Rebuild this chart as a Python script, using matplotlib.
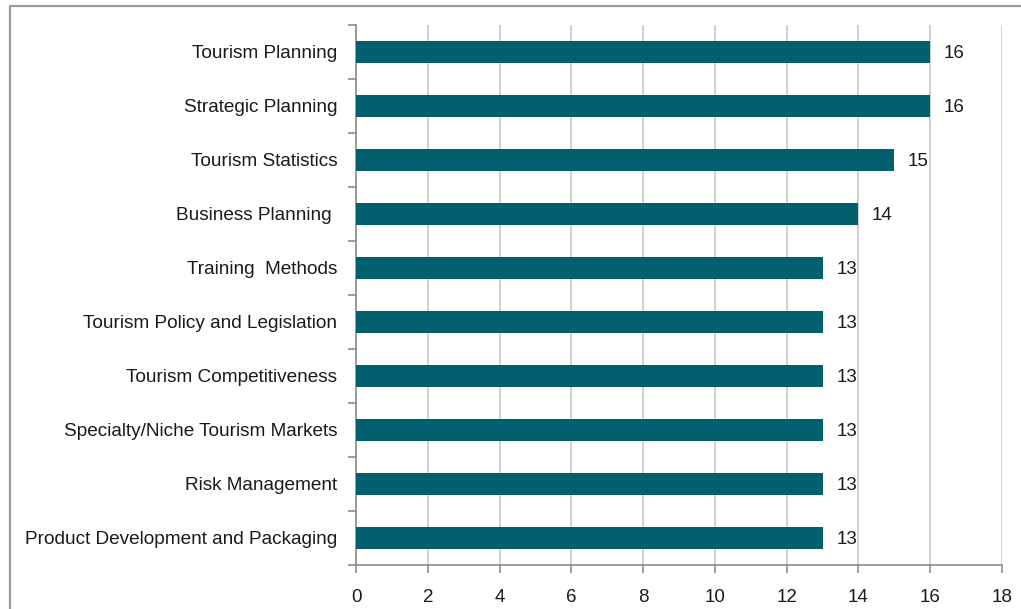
import matplotlib.pyplot as plt
from matplotlib.patches import Rectangle

categories = [
    'Tourism Planning',
    'Strategic Planning',
    'Tourism Statistics',
    'Business Planning ',
    'Training  Methods',
    'Tourism Policy and Legislation',
    'Tourism Competitiveness',
    'Specialty/Niche Tourism Markets',
    'Risk Management',
    'Product Development and Packaging',
]
values = [16, 16, 15, 14, 13, 13, 13, 13, 13, 13]
x_ticks = [0, 2, 4, 6, 8, 10, 12, 14, 16, 18]

plt.rcParams['font.family'] = ['Liberation Sans', 'DejaVu Sans']

fig = plt.figure(figsize=(10.21, 6.09), dpi=100)
ax = fig.add_axes([356 / 1021, 1 - 565 / 609, (1002 - 356) / 1021, (565 - 25) / 609])

# chart frame, cut off at right and bottom like the original
fig.patches.append(Rectangle((10 / 1021, -0.05), 1.0, 1 - 6 / 609 + 0.05,
                             transform=fig.transFigure, fill=False,
                             edgecolor='#9a9a9a', linewidth=1.6))

y = list(range(len(categories)))
ax.barh(y, values, height=0.4, color='#02606e', zorder=3)
for yi, v in zip(y, values):
    ax.text(v + 0.38, yi, str(v), va='center_baseline', ha='left', fontsize=13.5, color='#1a1a1a')

ax.set_ylim(len(categories) - 0.5, -0.5)
ax.set_xlim(0, 18)
ax.set_xticks(x_ticks)
ax.set_yticks(y)
ax.set_yticklabels(categories)
ax.set_yticks([i - 0.5 for i in range(len(categories) + 1)], minor=True)

ax.grid(axis='x', color='#c8c8c8', linewidth=1.2, zorder=0)
for side in ['top', 'right']:
    ax.spines[side].set_visible(False)
for side in ['left', 'bottom']:
    ax.spines[side].set_color('#8c8c8c')
    ax.spines[side].set_linewidth(1.2)

ax.tick_params(axis='y', which='major', length=0, pad=13.5, labelsize=13.7, labelcolor='#1a1a1a')
ax.tick_params(axis='y', which='minor', length=6, color='#8c8c8c', width=1.2)
ax.tick_params(axis='x', length=6, color='#8c8c8c', width=1.2, pad=11,
               labelsize=13.5, labelcolor='#1a1a1a')

plt.savefig('out.png', dpi=100)
